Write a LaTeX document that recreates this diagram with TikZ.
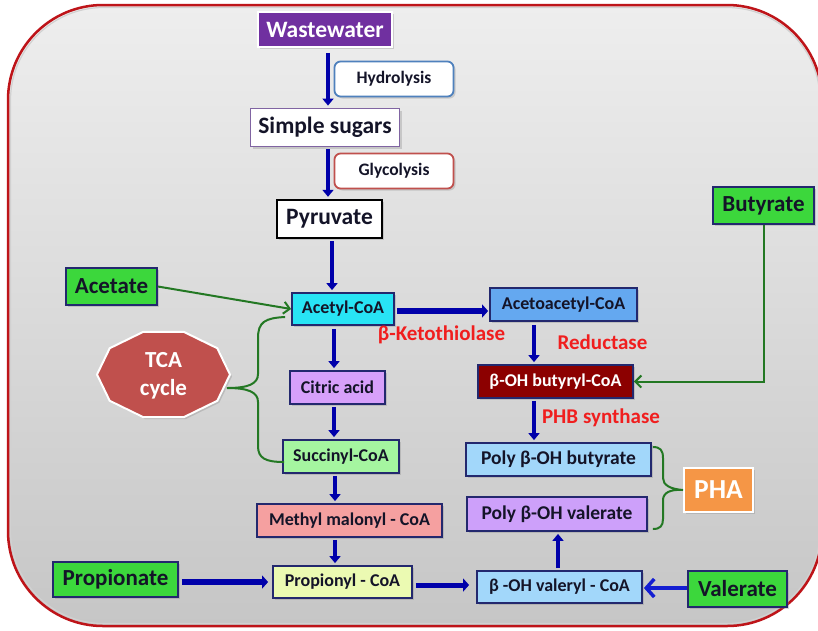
\documentclass[tikz,border=0pt]{standalone}
\usepackage{fontspec}
\setmainfont{Carlito}
\usetikzlibrary{arrows.meta,shadows,calc}

\definecolor{framered}{RGB}{190,20,25}
\definecolor{bgtop}{RGB}{238,238,238}
\definecolor{bgbot}{RGB}{198,198,198}
\definecolor{navy}{RGB}{35,40,110}
\definecolor{ink}{RGB}{20,20,40}
\definecolor{flowblue}{RGB}{0,0,170}
\definecolor{brightblue}{RGB}{20,30,210}
\definecolor{linegreen}{RGB}{35,120,35}
\definecolor{enzred}{RGB}{240,30,30}
\definecolor{substgreen}{RGB}{60,215,60}
\definecolor{wwpurple}{RGB}{112,48,160}
\definecolor{hydblue}{RGB}{79,129,189}
\definecolor{glyred}{RGB}{192,80,77}
\definecolor{sspurple}{RGB}{128,100,162}
\definecolor{cyanfill}{RGB}{40,228,245}
\definecolor{acetofill}{RGB}{100,168,240}
\definecolor{butyrylfill}{RGB}{140,0,0}
\definecolor{citricfill}{RGB}{215,160,250}
\definecolor{succfill}{RGB}{165,245,160}
\definecolor{malfill}{RGB}{245,160,160}
\definecolor{propfill}{RGB}{235,250,178}
\definecolor{paleblue}{RGB}{162,215,250}
\definecolor{valfill}{RGB}{205,160,250}
\definecolor{phaorange}{RGB}{245,150,70}
\definecolor{tcafill}{RGB}{192,80,77}

\newcommand\fsz[1]{\fontsize{#1}{#1}\selectfont}

\begin{document}
\begin{tikzpicture}[x=1pt,y=-1pt,
  shadowed/.style={drop shadow={opacity=0.3,shadow xshift=2pt,shadow yshift=-2pt}},
  box/.style={rectangle,draw=navy,line width=1.8pt,inner sep=0pt,text=ink,
    font=\bfseries\fsz{18},shadowed},
  bigbox/.style={rectangle,line width=1.8pt,inner sep=0pt,text=ink,fill=white,
    font=\bfseries\fsz{23.5},shadowed},
  stepnote/.style={rectangle,rounded corners=6pt,line width=1.8pt,inner sep=0pt,
    fill=white,text=ink,font=\bfseries\fsz{17.5},minimum width=119pt,minimum height=35pt,shadowed},
  subst/.style={box,fill=substgreen,font=\bfseries\fsz{23}},
  enzyme/.style={text=enzred,font=\bfseries\fsz{21},inner sep=0pt},
  flow/.style={draw=flowblue,line width=4.5pt,-{Triangle[length=7pt,width=11pt]}},
  wideflow/.style={draw=flowblue,line width=6pt,-{Triangle[length=6pt,width=13pt]}},
  feed/.style={draw=linegreen,line width=2pt,-{Straight Barb[length=6pt,width=12pt,line width=2pt]}},
  brace/.style={draw=linegreen,line width=2pt}
]
\useasboundingbox (0,0) rectangle (818,630);
\fill[white] (0,0) rectangle (818,630);

% rounded panel with grey gradient and red frame
\shade[top color=bgtop,bottom color=bgbot,rounded corners=95pt] (8,5) rectangle (822,626);
\draw[black!18,line width=1.2pt,rounded corners=93pt] (10.5,7.5) rectangle (820,623.5);
\draw[framered,line width=2.5pt,rounded corners=95pt] (8,5) rectangle (822,626);

% main pathway column
\node[bigbox,fill=wwpurple,draw=white,text=white,minimum width=134pt,minimum height=35pt]
  (ww) at (325,29.5) {Wastewater};
\node[stepnote,draw=hydblue] (hyd) at (394,79) {Hydrolysis};
\node[bigbox,draw=sspurple,minimum width=149pt,minimum height=38pt] (ss) at (325,127.5) {Simple sugars};
\node[stepnote,draw=glyred] (gly) at (394,171) {Glycolysis};
\node[bigbox,draw=black,line width=2.4pt,minimum width=105pt,minimum height=38pt] (pyr) at (329.5,219) {Pyruvate};

\node[box,fill=cyanfill,minimum width=102pt,minimum height=32pt] (acetyl) at (343,309) {Acetyl-CoA};
\node[box,fill=citricfill,minimum width=95pt,minimum height=33pt] (citric) at (337.5,387.5) {Citric acid};
\node[box,fill=succfill,minimum width=116pt,minimum height=33pt] (succ) at (341,456.5) {Succinyl-CoA};
\node[box,fill=malfill,minimum width=185pt,minimum height=33pt] (mal) at (349.5,520.5) {Methyl malonyl - CoA};
\node[box,fill=propfill,minimum width=139pt,minimum height=32pt] (prop) at (342.5,582) {Propionyl - CoA};

% PHB branch
\node[box,fill=acetofill,minimum width=147pt,minimum height=33pt] (aceto) at (563.5,304.5) {Acetoacetyl-CoA};
\node[box,fill=butyrylfill,text=white,minimum width=155pt,minimum height=33pt] (butyryl) at (555.5,381.5) {β-OH butyryl-CoA};
\node[box,fill=paleblue,font=\bfseries\fsz{19.5},minimum width=185pt,minimum height=33pt] (pbut) at (558.5,459.5) {Poly β-OH butyrate};
\node[box,fill=valfill,font=\bfseries\fsz{19.5},minimum width=180pt,minimum height=34pt] (pval) at (557,514) {Poly β-OH valerate};
\node[box,fill=paleblue,minimum width=165pt,minimum height=32pt] (valeryl) at (559.5,587) {β -OH valeryl - CoA};
\node[rectangle,fill=phaorange,draw=white,line width=2pt,text=white,inner sep=0pt,
  font=\bfseries\fsz{27.5},minimum width=69pt,minimum height=44pt,shadowed] (pha) at (718.5,490) {PHA};

% external substrates
\node[subst,minimum width=91pt,minimum height=37pt] (acetate) at (111.5,286.5) {Acetate};
\node[subst,minimum width=101pt,minimum height=37pt] (butyrate) at (763.5,205.5) {Butyrate};
\node[subst,minimum width=125pt,minimum height=35pt] (propionate) at (115.5,579.5) {Propionate};
\node[subst,minimum width=99pt,minimum height=36pt] (valerate) at (737.5,589) {Valerate};

% TCA cycle: flattened decagon
\fill[tcafill,draw=white,line width=2pt,shadowed]
  (163.5+66.5,374.5) \foreach \a in {36,72,...,324} { -- ({163.5+66.5*cos(\a)},{374.5-44.7*sin(\a)}) } -- cycle;
\node[text=white,align=center,inner sep=0pt,minimum width=133pt,minimum height=85pt,
  font=\bfseries\fontsize{23}{28}\selectfont] (tca) at (163.5,376) {TCA\\cycle};

% enzyme labels
\node[enzyme] (ketothiolase) at (441.5,335) {β-Ketothiolase};
\node[enzyme] (reductase) at (602.5,342) {Reductase};
\node[enzyme] (synthase) at (601,418) {PHB synthase};

% column positions of the vertical arrows
\coordinate (colA) at (328,0);
\coordinate (colB) at (334,0);
\coordinate (colC) at (534,0);
\coordinate (colD) at (558,0);

% vertical flow arrows
\draw[flow,shorten <=5pt,shorten >=2pt] (ww.south -| colA) -- (ss.north -| colA);
\draw[flow,shorten <=2pt,shorten >=2pt] (ss.south -| colA) -- (pyr.north -| colA);
\draw[flow,shorten <=2pt,shorten >=2pt] ([xshift=2.5pt]pyr.south) -- ([xshift=2.5pt]pyr.south |- acetyl.north);
\draw[flow,shorten <=3pt,shorten >=2pt] (acetyl.south -| colB) -- (citric.north -| colB);
\draw[flow,shorten <=2pt,shorten >=2pt] (citric.south -| colB) -- (succ.north -| colB);
\draw[flow,shorten <=2pt,shorten >=2pt] ([xshift=1pt]succ.south -| colB) -- ([xshift=1pt]mal.north -| colB);
\draw[flow,shorten <=2pt,shorten >=2pt] ([xshift=1pt]mal.south -| colB) -- ([xshift=1pt]prop.north -| colB);
\draw[flow,shorten <=3pt,shorten >=2pt] (aceto.south -| colC) -- (butyryl.north -| colC);
\draw[flow,shorten <=2pt,shorten >=2pt] (butyryl.south -| colC) -- (pbut.north -| colC);
\draw[flow,shorten <=2pt,shorten >=2pt] (valeryl.north -| colD) -- (pval.south -| colD);

% horizontal flow arrows
\draw[wideflow,shorten <=2pt,shorten >=1pt] ([yshift=-2pt]acetyl.east) -- ([yshift=-2pt]acetyl.east -| aceto.west);
\draw[wideflow,line width=6.5pt,shorten <=3pt,shorten >=4pt] ([yshift=-2.5pt]propionate.east) -- ([yshift=-2.5pt]propionate.east -| prop.west);
\draw[wideflow,line width=5pt,shorten <=3pt,shorten >=7pt] ([yshift=-3pt]prop.east) -- ([yshift=-3pt]prop.east -| valeryl.west);
\draw[draw=brightblue,line width=3.5pt,-{Straight Barb[length=8pt,width=18pt,line width=3.5pt]},shorten >=1pt]
  ([yshift=1pt]valerate.west) -- ([yshift=1pt]valerate.west -| valeryl.east);

% green feeds
\draw[feed] (acetate.east) -- (acetyl.west);
\draw[feed] (butyrate.south) |- (butyryl.east);

% TCA brace
\coordinate (tcatip) at (227,388);
\draw[brace] ([xshift=-6pt,yshift=-8pt]acetyl.west) .. controls (265,318) and (258,322) .. (258,338)
  -- (258,374) .. controls (258,384) and (248,388) .. (tcatip)
  .. controls (248,388) and (258,392) .. (258,402)
  -- (258,446) .. controls (258,458) and (265,462) .. ([xshift=2pt,yshift=-5.5pt]succ.west);

% PHA brace (yshift is in page direction: positive is up)
\draw[brace] ([xshift=1pt,yshift=12.5pt]pbut.east) .. controls (660,447) and (663,450) .. (663,458)
  -- (663,478) .. controls (663,485) and (670,489) .. (pha.west)
  .. controls (670,489) and (663,493) .. (663,500)
  -- (663,519) .. controls (663,526) and (660,529) .. ([xshift=5pt,yshift=-15pt]pval.east);
\end{tikzpicture}
\end{document}
